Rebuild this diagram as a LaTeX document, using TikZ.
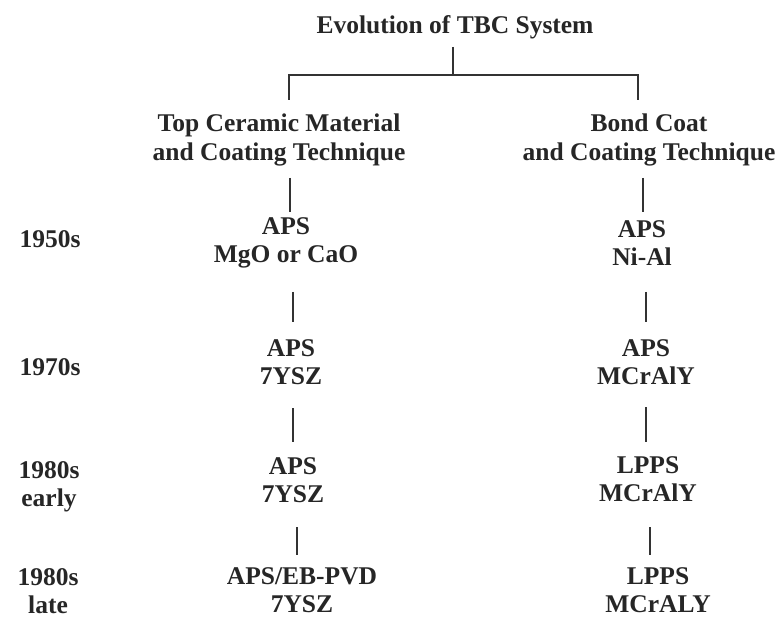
\documentclass[tikz,border=0pt]{standalone}
\usepackage{fontspec}
\setmainfont{Liberation Serif}
\begin{document}
\begin{tikzpicture}[x=1pt,y=-1pt,
  lbl/.style={font=\fontsize{25.5}{28.5}\selectfont\bfseries, align=center, inner sep=0pt, text=black!85},
  conn/.style={line width=1.6pt, draw=black!80}]
\useasboundingbox[fill=white] (0,0) rectangle (782,620);
% title and headers
\node[lbl] (title) at (455,27) {Evolution of TBC System};
\node[lbl] (h1) at (279,140) {Top Ceramic Material\\and Coating Technique};
\node[lbl] (h2) at (649,140) {Bond Coat\\and Coating Technique};
% years
\node[lbl] (y1) at (50,239) {1950s};
\node[lbl] (y2) at (50,367) {1970s};
\node[lbl] (y3) at (49,487) {1980s\\early};
\node[lbl] (y4) at (48,591) {1980s\\late};
% left column
\node[lbl] (c1) at (286,243) {APS\\MgO or CaO};
\node[lbl] (c2) at (291,362) {APS\\7YSZ};
\node[lbl] (c3) at (293,480) {APS\\7YSZ};
\node[lbl] (c4) at (302,590) {APS/EB-PVD\\7YSZ};
% right column
\node[lbl] (r1) at (642,243) {APS\\Ni-Al};
\node[lbl] (r2) at (646,362) {APS\\MCrAlY};
\node[lbl] (r3) at (648,479) {LPPS\\MCrAlY};
\node[lbl] (r4) at (658,590) {LPPS\\MCrALY};
% tree coordinates
\coordinate (t0) at (453,47);
\coordinate (tj) at (453,75);
\coordinate (lj) at (289,75);
\coordinate (rj) at (638,75);
\coordinate (lh) at (289,100);
\coordinate (rh) at (638,100);
\draw[conn] (t0) -- (tj);
\draw[conn] (lh) -- (lj) -- (rj) -- (rh);
% left column connectors
\coordinate (la1) at (290,178); \coordinate (lb1) at (290,212);
\coordinate (la2) at (293,292); \coordinate (lb2) at (293,322);
\coordinate (la3) at (293,408); \coordinate (lb3) at (293,442);
\coordinate (la4) at (297,527); \coordinate (lb4) at (297,555);
\draw[conn] (la1) -- (lb1);
\draw[conn] (la2) -- (lb2);
\draw[conn] (la3) -- (lb3);
\draw[conn] (la4) -- (lb4);
% right column connectors
\coordinate (ra1) at (643,178); \coordinate (rb1) at (643,212);
\coordinate (ra2) at (646,292); \coordinate (rb2) at (646,322);
\coordinate (ra3) at (646,407); \coordinate (rb3) at (646,442);
\coordinate (ra4) at (650,527); \coordinate (rb4) at (650,555);
\draw[conn] (ra1) -- (rb1);
\draw[conn] (ra2) -- (rb2);
\draw[conn] (ra3) -- (rb3);
\draw[conn] (ra4) -- (rb4);
\end{tikzpicture}
\end{document}
